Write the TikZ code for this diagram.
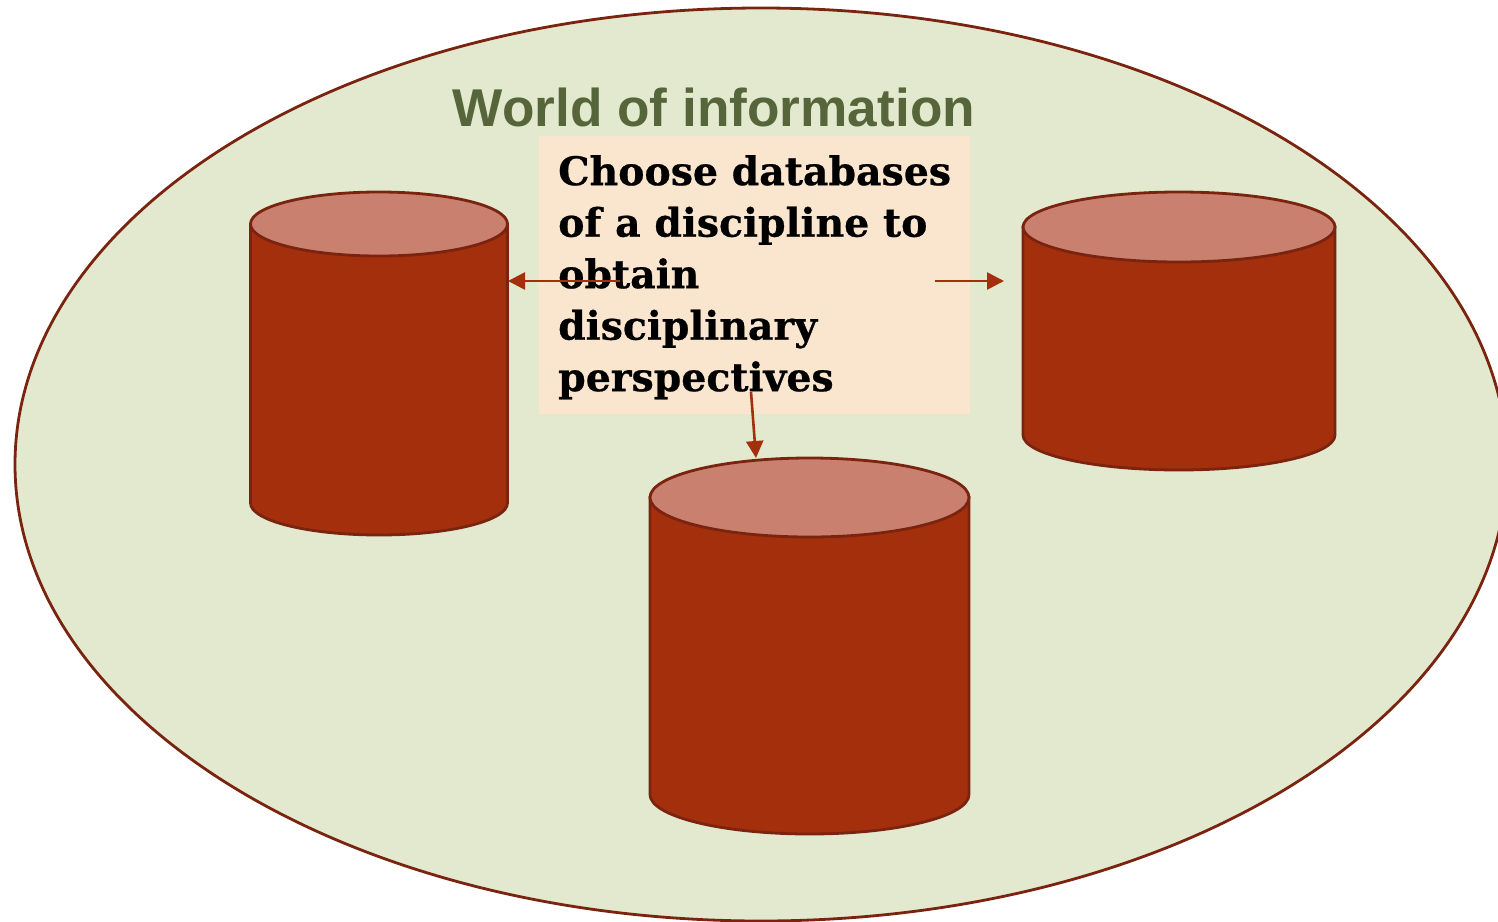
\documentclass[tikz,border=0pt]{standalone}
\usepackage{fontspec}
\setmainfont{Liberation Sans}
\newfontfamily\boldserif[FakeBold=0.6]{DejaVu Serif}
\usetikzlibrary{arrows.meta}
\definecolor{ell}{HTML}{E3E9CF}
\definecolor{edge}{HTML}{7A2410}
\definecolor{body}{HTML}{A42F0D}
\definecolor{topc}{HTML}{C9806E}
\definecolor{boxc}{HTML}{FAE5CF}
\definecolor{title}{HTML}{56663A}
\tikzset{
 x=1pt,y=-1pt,
 conn/.style={draw=body,line width=2.6pt,-{Triangle[length=17pt,width=17pt]}},
 cylside/.style={fill=body,draw=edge,line width=2.8pt},
 cyltop/.style={fill=topc,draw=edge,line width=2.8pt},
}
\newcommand{\dbcyl}[5]{%
 \path[cylside] (#1,#3+#5) -- (#1,#4-#5) arc[start angle=180,end angle=0,x radius={(#2-#1)/2},y radius=#5] -- (#2,#3+#5) -- cycle;
 \path[cyltop] ({(#1+#2)/2},{#3+#5}) ellipse[x radius={(#2-#1)/2},y radius=#5];
}
\begin{document}
\begin{tikzpicture}
\useasboundingbox (0,0) rectangle (1498,921);
\clip (0,0) rectangle (1498,921);
\fill[white] (0,0) rectangle (1498,921);
\path[fill=ell,draw=edge,line width=2.8pt] (761,464.5) ellipse[x radius=746,y radius=456.5];
\dbcyl{250.5}{507.5}{192}{535}{32}
\dbcyl{1023}{1335}{192}{470}{35}
\dbcyl{650}{969}{458}{834}{39.5}
\node[text=title,font=\fontsize{53.2}{60}\selectfont\bfseries,anchor=center] (ttl) at (714,107) {World of information};
\node[fill=boxc,minimum width=431pt,minimum height=278pt,anchor=north west,inner sep=0pt] (bx) at (539,136) {};
\node[anchor=north west,inner sep=0pt,align=left,font=\boldserif\fontsize{39.4}{51.5}\selectfont\bfseries] (txt) at (558,155) {Choose databases\\of a discipline to\\obtain\\disciplinary\\perspectives};
\coordinate (la) at (620,281);
\coordinate (lb) at (508,281);
\coordinate (ra) at (935,281);
\coordinate (rb) at (1004,281);
\coordinate (da) at (751,392);
\coordinate (db) at (756,458);
\draw[conn] (la) -- (lb);
\draw[conn] (ra) -- (rb);
\draw[conn] (da) -- (db);
\end{tikzpicture}
\end{document}
